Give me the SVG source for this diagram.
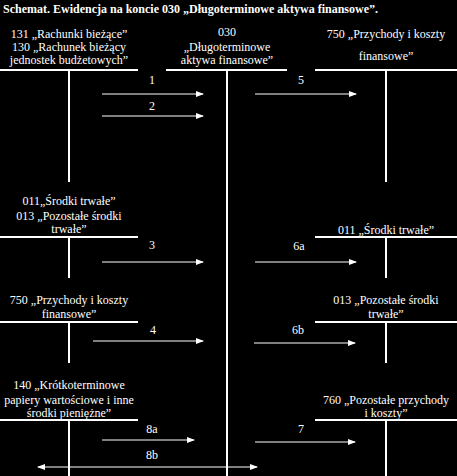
<svg xmlns="http://www.w3.org/2000/svg" width="457" height="476" viewBox="0 0 457 476">
<style>
text{font-family:"Liberation Serif","Times New Roman",serif;font-size:12px;fill:#fff;text-anchor:middle}
.title{font-weight:bold;font-size:12px;text-anchor:start}
.t{stroke:#fff;stroke-width:2;fill:none}
.a{stroke:#fff;stroke-width:1;fill:none;marker-end:url(#ah)}
</style>
<defs>
<marker id="ah" markerWidth="8" markerHeight="6" refX="7" refY="3" orient="auto" markerUnits="userSpaceOnUse"><path d="M0,0 L8,3 L0,6 Z" fill="#fff"/></marker>
<marker id="ahs" markerWidth="8" markerHeight="6" refX="1" refY="3" orient="auto" markerUnits="userSpaceOnUse"><path d="M8,0 L0,3 L8,6 Z" fill="#fff"/></marker>
</defs>
<rect width="457" height="476" fill="#000"/>
<text class="title" x="3" y="13">Schemat. Ewidencja na koncie 030 „Długoterminowe aktywa finansowe”.</text>

<g id="acc131">
<text x="69" y="38">131 „Rachunki bieżące”</text>
<text x="69" y="51">130 „Rachunek bieżący</text>
<text x="69" y="64">jednostek budżetowych”</text>
<path class="t" d="M0,70 H138 M69,70 V182"/>
</g>
<g id="acc030">
<text x="227" y="36">030</text>
<text x="227" y="51">„Długoterminowe</text>
<text x="227" y="64">aktywa finansowe”</text>
<path class="t" d="M166,70 H287 M227,70 V476"/>
</g>
<g id="acc750a">
<text x="386" y="38">750 „Przychody i koszty</text>
<text x="386" y="60">finansowe”</text>
<path class="t" d="M315,70 H457 M386,70 V182"/>
</g>
<g id="acc011_013">
<text x="69" y="205">011„Środki trwałe”</text>
<text x="69" y="220">013 „Pozostałe środki</text>
<text x="69" y="233">trwałe”</text>
<path class="t" d="M0,237 H138 M69,237 V278"/>
</g>
<g id="acc011">
<text x="386" y="234">011 „Środki trwałe”</text>
<path class="t" d="M315,237 H457 M386,237 V278"/>
</g>
<g id="acc750b">
<text x="69" y="304">750 „Przychody i koszty</text>
<text x="69" y="318">finansowe”</text>
<path class="t" d="M0,322 H138 M69,322 V363"/>
</g>
<g id="acc013">
<text x="386" y="304">013 „Pozostałe środki</text>
<text x="386" y="318">trwałe”</text>
<path class="t" d="M315,322 H457 M386,322 V363"/>
</g>
<g id="acc140">
<text x="69" y="389">140 „Krótkoterminowe</text>
<text x="69" y="404">papiery wartościowe i inne</text>
<text x="69" y="417">środki pieniężne”</text>
<path class="t" d="M0,420 H138 M69,420 V476"/>
</g>
<g id="acc760">
<text x="386" y="404">760 „Pozostałe przychody</text>
<text x="386" y="417">i koszty”</text>
<path class="t" d="M315,420 H457 M386,420 V476"/>
</g>

<g id="connectors">
<text x="152" y="84">1</text>
<path class="a" d="M102,94 H203"/>
<text x="152" y="110">2</text>
<path class="a" d="M102,116 H203"/>
<text x="301" y="84">5</text>
<path class="a" d="M255,94 H356"/>
<text x="152" y="249">3</text>
<path class="a" d="M102,262 H203"/>
<text x="299" y="250">6a</text>
<path class="a" d="M255,262 H356"/>
<text x="153" y="334">4</text>
<path class="a" d="M93,341 H203"/>
<text x="298" y="334">6b</text>
<path class="a" d="M254,343 H355"/>
<text x="152" y="433">8a</text>
<path class="a" d="M102,440 H194"/>
<text x="301" y="433">7</text>
<path class="a" d="M255,442 H355"/>
<text x="152" y="459">8b</text>
<path class="a" d="M38,467 H257" marker-start="url(#ahs)"/>
</g>
</svg>
